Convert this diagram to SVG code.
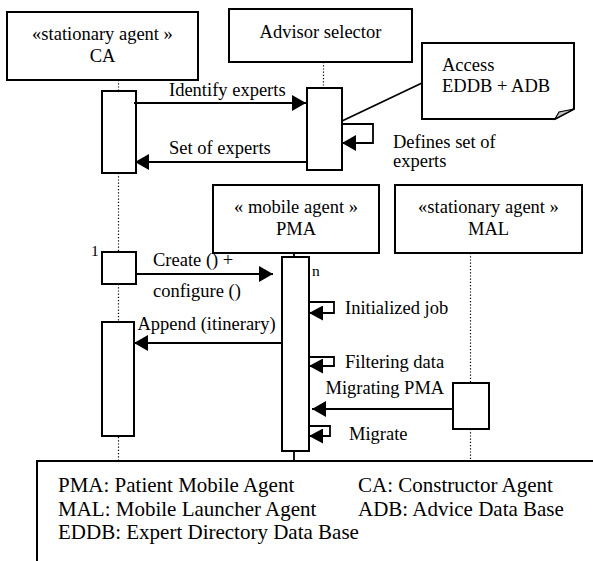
<svg xmlns="http://www.w3.org/2000/svg" width="593" height="561" viewBox="0 0 593 561">
<defs>
<style>
.box{fill:#fff;stroke:#000;stroke-width:2}
.bar{fill:#fff;stroke:#000;stroke-width:2}
.life{fill:none;stroke:#000;stroke-width:1.2;stroke-dasharray:1.2 2}
.solid{fill:none;stroke:#000;stroke-width:1.8}
.msg{fill:none;stroke:#000;stroke-width:1.8}
text{font-family:"Liberation Serif","Times New Roman",serif;fill:#000;font-size:18.5px}
.c{text-anchor:middle}
.sm{font-size:15.5px}
.lg{font-size:21px}
</style>
<marker id="ah" viewBox="0 0 14 16" refX="14" refY="8" markerWidth="14" markerHeight="16" markerUnits="userSpaceOnUse" orient="auto"><path d="M0,0 L14,8 L0,16 Z" fill="#000"/></marker>
<marker id="ahs" viewBox="0 0 14 15" refX="14" refY="7.5" markerWidth="14" markerHeight="15" markerUnits="userSpaceOnUse" orient="auto"><path d="M0,0 L14,7.5 L0,15 Z" fill="#000"/></marker>
</defs>

<g id="lifelines">
<line class="life" x1="118.5" y1="80" x2="118.5" y2="91"/>
<line class="life" x1="118.5" y1="173" x2="118.5" y2="252"/>
<line class="life" x1="118.5" y1="284" x2="118.5" y2="322"/>
<line class="life" x1="118.5" y1="437" x2="118.5" y2="461"/>
<line class="life" x1="323.5" y1="62" x2="323.5" y2="88"/>
<line class="solid" x1="294" y1="253" x2="294" y2="257"/>
<line class="solid" x1="294" y1="451" x2="294" y2="461"/>
<line class="life" x1="470.5" y1="253" x2="470.5" y2="383"/>
<line class="life" x1="470.5" y1="429" x2="470.5" y2="461"/>
</g>

<g id="CA">
<rect class="box" x="7" y="12" width="191" height="68"/>
<text class="c" x="102.5" y="40">«stationary agent »</text>
<text class="c" x="102.5" y="62">CA</text>
<rect class="bar" x="102" y="91" width="34" height="82"/>
<rect class="bar" x="102" y="252" width="34" height="32"/>
<text class="sm" x="91" y="256">1</text>
<rect class="bar" x="102" y="322" width="32" height="114"/>
</g>

<g id="AdvisorSelector">
<rect class="box" x="229" y="9" width="183" height="53"/>
<text class="c" x="320.5" y="38">Advisor selector</text>
<rect class="bar" x="307" y="88" width="35" height="82"/>
</g>

<g id="Note">
<path d="M422,43 H574 V109 L555,119 H422 Z" fill="#fff" stroke="#000" stroke-width="2"/>
<path d="M555,119 L574,109 L559,112 Z" fill="#c0c0c0" stroke="#000" stroke-width="1.2"/>
<text x="442" y="71">Access</text>
<text x="442" y="92">EDDB + ADB</text>
</g>

<g id="PMA">
<rect class="box" x="213" y="185" width="166" height="68"/>
<text class="c" x="296" y="212.5">« mobile agent »</text>
<text class="c" x="296" y="234.5">PMA</text>
<rect class="bar" x="282" y="257" width="27" height="194"/>
<text class="sm" x="312" y="276">n</text>
</g>

<g id="MAL">
<rect class="box" x="395" y="185" width="187" height="68"/>
<text class="c" x="488.5" y="212.5">«stationary agent »</text>
<text class="c" x="488.5" y="234.5">MAL</text>
<rect class="bar" x="453" y="383" width="36" height="46"/>
</g>

<g id="connectors">
<line class="solid" x1="422" y1="83" x2="342" y2="121" stroke-width="1.5"/>
<line class="msg" x1="134" y1="103" x2="306" y2="103" marker-end="url(#ah)"/>
<text x="169" y="95.5">Identify experts</text>
<line class="msg" x1="307" y1="162" x2="135" y2="162" marker-end="url(#ah)"/>
<text x="169" y="153.5">Set of experts</text>
<polyline class="msg" points="342,124 373,124 373,143 342,143" marker-end="url(#ah)"/>
<text x="393" y="148">Defines set of</text>
<text x="393" y="167">experts</text>
<line class="msg" x1="136" y1="274" x2="273" y2="274" marker-end="url(#ah)"/>
<text x="153" y="266">Create () +</text>
<text x="153" y="297">configure ()</text>
<line class="msg" x1="282" y1="343" x2="134" y2="343" marker-end="url(#ah)"/>
<text x="137.5" y="330">Append (itinerary)</text>
<polyline class="msg" points="309,302 334,302 334,313 309,313" marker-end="url(#ahs)"/>
<text x="345" y="313.5">Initialized job</text>
<polyline class="msg" points="309,357 334,357 334,366 309,366" marker-end="url(#ahs)"/>
<text x="345" y="367.5">Filtering data</text>
<line class="msg" x1="453" y1="409" x2="312" y2="409" marker-end="url(#ah)"/>
<text x="325.5" y="394">Migrating PMA</text>
<polyline class="msg" points="309,426 330,426 330,436 309,436" marker-end="url(#ahs)"/>
<text x="349" y="440">Migrate</text>
</g>

<g id="Legend">
<rect x="37" y="461" width="600" height="200" fill="#fff" stroke="#000" stroke-width="2"/>
<text class="lg" x="58" y="492">PMA: Patient Mobile Agent</text>
<text class="lg" x="358" y="492">CA: Constructor Agent</text>
<text class="lg" x="58" y="515.5">MAL: Mobile Launcher Agent</text>
<text class="lg" x="358" y="515.5">ADB: Advice Data Base</text>
<text class="lg" x="58" y="539">EDDB: Expert Directory Data Base</text>
</g>
</svg>
